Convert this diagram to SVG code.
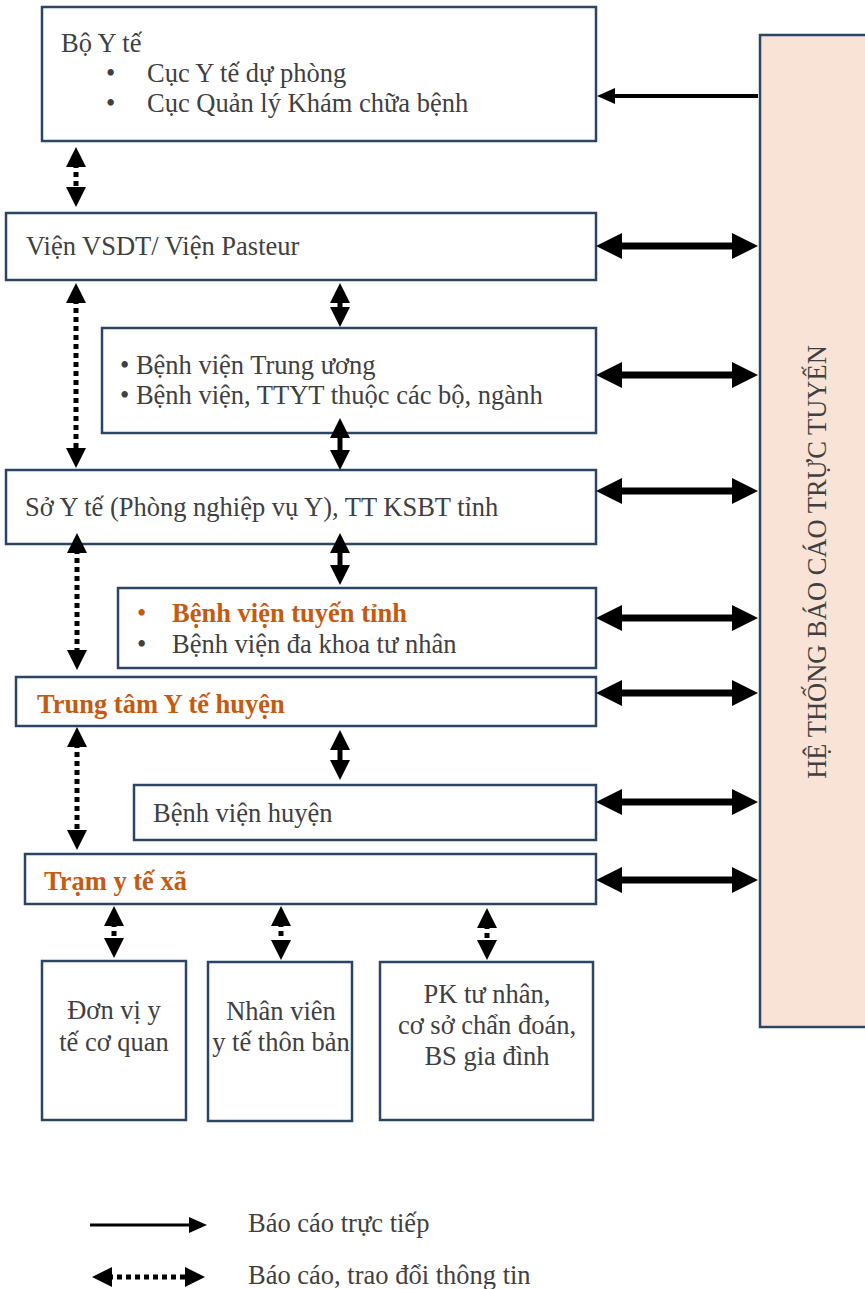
<svg xmlns="http://www.w3.org/2000/svg" width="865" height="1289" viewBox="0 0 865 1289">
<defs>
<style>
.box{fill:#fff;stroke:#2c4566;stroke-width:2.5}
.t{font-family:"Liberation Serif","Times New Roman",serif;font-size:26.5px;fill:#404040}
.o{font-family:"Liberation Serif","Times New Roman",serif;font-size:26.5px;font-weight:bold;fill:#c55a11}
.c{text-anchor:middle}
.thick{stroke:#000;stroke-width:7;fill:none;marker-start:url(#hb);marker-end:url(#hb)}
.dot{stroke:#000;stroke-width:5;stroke-dasharray:5 4;fill:none;marker-start:url(#hs);marker-end:url(#hs)}
.mid{stroke:#000;stroke-width:5;fill:none;marker-start:url(#hs);marker-end:url(#hs)}
</style>
<marker id="hb" markerUnits="userSpaceOnUse" markerWidth="26" markerHeight="26" refX="12" refY="13" orient="auto-start-reverse"><path d="M0,0 L26,13 L0,26 z" fill="#000"/></marker>
<marker id="hs" markerUnits="userSpaceOnUse" markerWidth="20" markerHeight="22" refX="4" refY="10" orient="auto-start-reverse"><path d="M0,0 L20,10 L0,20 z" fill="#000"/></marker>
<marker id="h1" markerUnits="userSpaceOnUse" markerWidth="18" markerHeight="18" refX="4" refY="8" orient="auto"><path d="M0,0 L18,8 L0,16 z" fill="#000"/></marker>
</defs>
<rect width="865" height="1289" fill="#fff"/>

<g id="panel"><rect x="760" y="35" width="110" height="992" fill="#f9e3d7" stroke="#2c4566" stroke-width="2.5"/>
<text class="t c" transform="translate(826,562) rotate(-90)">HỆ THỐNG BÁO CÁO TRỰC TUYẾN</text></g>

<g id="boyte"><rect class="box" x="42" y="7" width="554" height="134"/>
<text class="t" x="61" y="52">Bộ Y tế</text>
<text class="t" x="106" y="82">•</text><text class="t" x="147" y="82">Cục Y tế dự phòng</text>
<text class="t" x="106" y="112">•</text><text class="t" x="147" y="112">Cục Quản lý Khám chữa bệnh</text></g>

<g id="vien"><rect class="box" x="6" y="213" width="590" height="67"/>
<text class="t" x="26" y="255">Viện VSDT/ Viện Pasteur</text></g>

<g id="bvtw"><rect class="box" x="102" y="328" width="494" height="105"/>
<text class="t" x="120" y="374">• Bệnh viện Trung ương</text>
<text class="t" x="120" y="404">• Bệnh viện, TTYT thuộc các bộ, ngành</text></g>

<g id="soyte"><rect class="box" x="6" y="470" width="590" height="74"/>
<text class="t" x="25" y="516">Sở Y tế (Phòng nghiệp vụ Y), TT KSBT tỉnh</text></g>

<g id="bvtinh"><rect class="box" x="118" y="588" width="478" height="80"/>
<text class="o" x="137" y="622" style="font-weight:normal">•</text><text class="o" x="172" y="622">Bệnh viện tuyến tỉnh</text>
<text class="t" x="137" y="653">•</text><text class="t" x="172" y="653">Bệnh viện đa khoa tư nhân</text></g>

<g id="ttyt"><rect class="box" x="16" y="677" width="580" height="49"/>
<text class="o" x="37" y="713">Trung tâm Y tế huyện</text></g>

<g id="bvhuyen"><rect class="box" x="134" y="785" width="462" height="55"/>
<text class="t" x="153" y="822">Bệnh viện huyện</text></g>

<g id="tram"><rect class="box" x="25" y="854" width="571" height="50"/>
<text class="o" x="44" y="890">Trạm y tế xã</text></g>

<g id="donvi"><rect class="box" x="42" y="961" width="144" height="159"/>
<text class="t c" x="114" y="1019">Đơn vị y</text><text class="t c" x="114" y="1051">tế cơ quan</text></g>

<g id="nhanvien"><rect class="box" x="208" y="962" width="144" height="159"/>
<text class="t c" x="281" y="1020">Nhân viên</text><text class="t c" x="281" y="1051">y tế thôn bản</text></g>

<g id="pk"><rect class="box" x="380" y="962" width="213" height="158"/>
<text class="t c" x="487" y="1003">PK tư nhân,</text><text class="t c" x="487" y="1034">cơ sở chẩn đoán,</text><text class="t c" x="487" y="1065">BS gia đình</text></g>

<g id="connectors">
<line x1="758" y1="96" x2="611" y2="96" stroke="#000" stroke-width="4" marker-end="url(#h1)"/>
<line class="thick" x1="610" y1="246" x2="744" y2="246"/>
<line class="thick" x1="610" y1="375" x2="744" y2="375"/>
<line class="thick" x1="610" y1="491" x2="744" y2="491"/>
<line class="thick" x1="610" y1="618" x2="744" y2="618"/>
<line class="thick" x1="610" y1="693" x2="744" y2="693"/>
<line class="thick" x1="610" y1="802" x2="744" y2="802"/>
<line class="thick" x1="610" y1="880" x2="744" y2="880"/>

<line class="dot" x1="76" y1="163" x2="76" y2="191"/>
<line class="dot" x1="76" y1="299" x2="76" y2="452"/>
<line class="dot" x1="77" y1="549" x2="77" y2="654"/>
<line class="dot" x1="77" y1="743" x2="77" y2="834"/>

<line class="mid" x1="340" y1="299" x2="340" y2="311"/>
<line class="mid" x1="340" y1="434" x2="340" y2="454"/>
<line class="mid" x1="340" y1="549" x2="340" y2="569"/>
<line class="mid" x1="340" y1="746" x2="340" y2="764"/>

<line class="dot" x1="114" y1="922" x2="114" y2="942"/>
<line class="dot" x1="281" y1="922" x2="281" y2="944"/>
<line class="dot" x1="487" y1="924" x2="487" y2="944"/>
</g>

<g id="legend">
<line x1="90" y1="1225" x2="193" y2="1225" stroke="#000" stroke-width="3" marker-end="url(#h1)"/>
<text class="t" x="248" y="1232">Báo cáo trực tiếp</text>
<line class="dot" x1="108" y1="1277" x2="189" y2="1277"/>
<text class="t" x="248" y="1284">Báo cáo, trao đổi thông tin</text>
</g>
</svg>
